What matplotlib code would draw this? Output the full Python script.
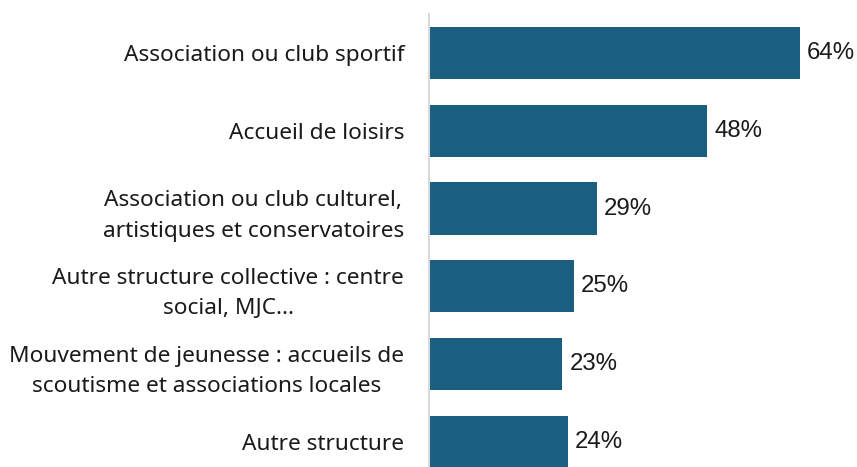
import matplotlib.pyplot as plt

categories = [
    "Association ou club sportif",
    "Accueil de loisirs",
    "Association ou club culturel,\nartistiques et conservatoires",
    "Autre structure collective : centre\nsocial, MJC...",
    "Mouvement de jeunesse : accueils de\nscoutisme et associations locales",
    "Autre structure",
]
values = [64, 48, 29, 25, 23, 24]
value_labels = ["64%", "48%", "29%", "25%", "23%", "24%"]

bar_color = "#1a5e80"

fig = plt.figure(figsize=(8.57, 4.67), dpi=100)
# the bottom bar is cut by the frame, so the axes goes below the figure
ax = fig.add_axes([0.5006, -0.0296, 0.494, 0.9996])

ypos = list(range(len(categories)))
ax.barh(ypos, values, height=0.67, color=bar_color)
ax.set_ylim(5.5, -0.5)
ax.set_xlim(0, 73)

for y, v, lab in zip(ypos, values, value_labels):
    ax.annotate(lab, (v, y), xytext=(5, 0), textcoords="offset points",
                va="center", ha="left", fontsize=17.3, color="#1a1a1a",
                family="Liberation Sans", annotation_clip=False)

ax.set_yticks(ypos)
ax.set_yticklabels(categories, fontsize=16.3, family="Noto Sans", color="#1a1a1a",
                   multialignment="center", linespacing=1.6)
ax.tick_params(axis="y", length=0, pad=18)
ax.set_xticks([])

for s in ["top", "right", "bottom"]:
    ax.spines[s].set_visible(False)
ax.spines["left"].set_color("#d9d9d9")
ax.spines["left"].set_linewidth(1.5)

fig.savefig("out.png", dpi=100)
